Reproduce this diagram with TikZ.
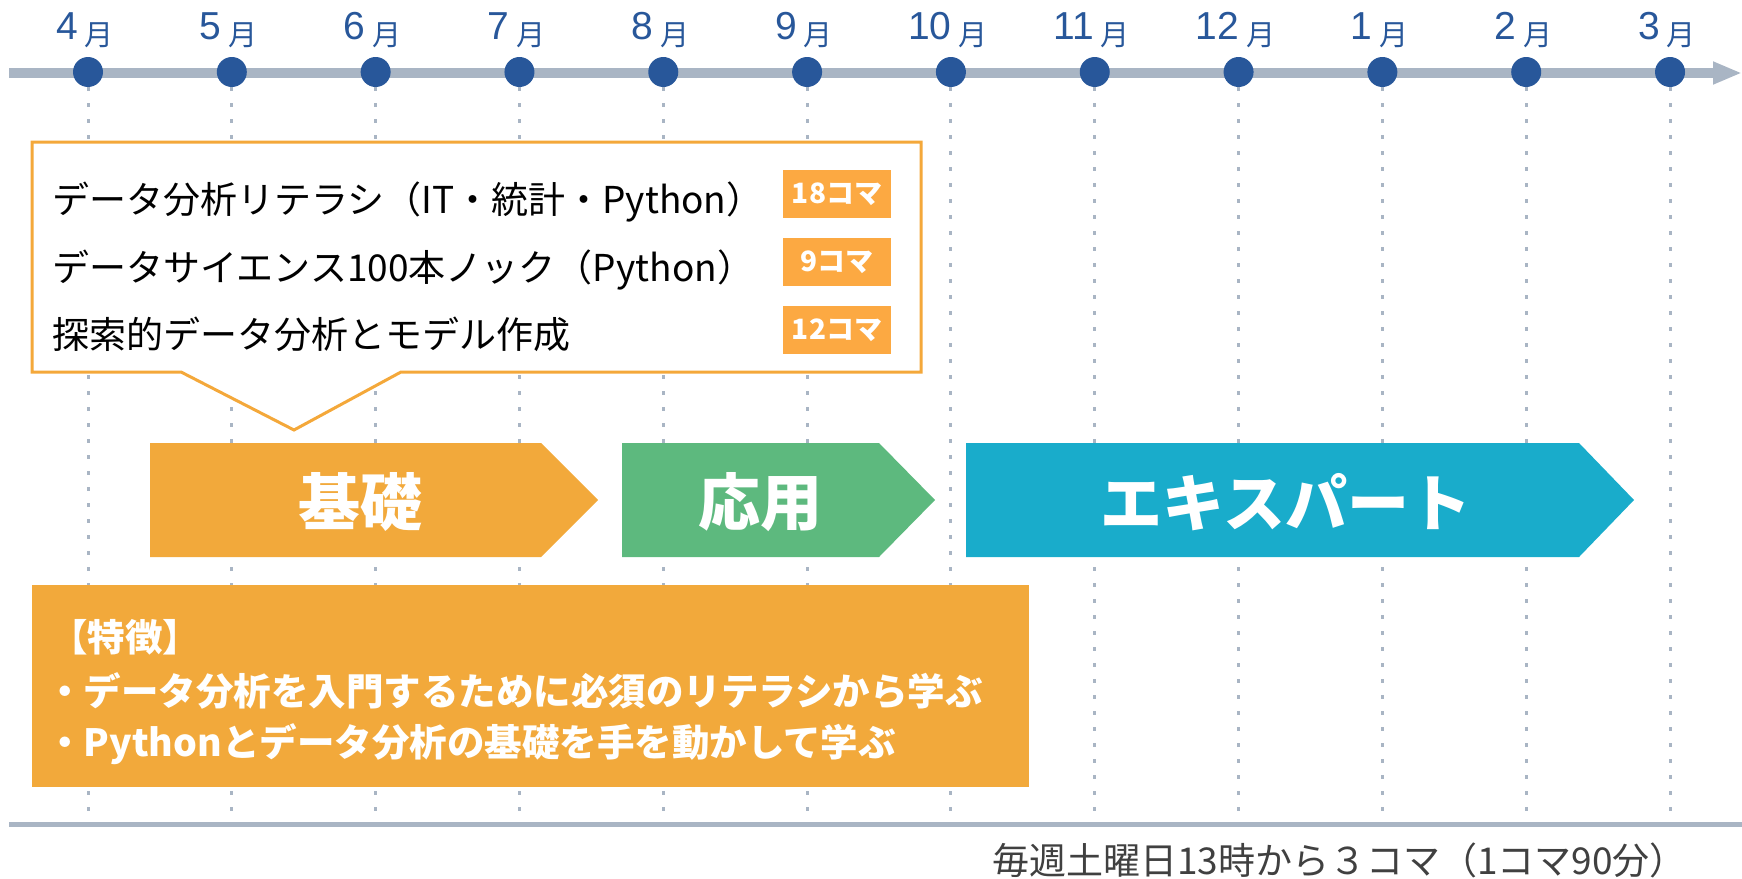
\documentclass[tikz,border=0pt]{standalone}
\usepackage{fontspec}
\setmainfont{Liberation Sans}
\newfontfamily\jp{Noto Sans CJK JP}
\usetikzlibrary{arrows.meta,calc}
\definecolor{dotblue}{HTML}{28579A}
\definecolor{tlgray}{HTML}{A9B5C4}
\definecolor{orangeA}{HTML}{F2A93B}
\definecolor{calloutor}{HTML}{F4A83A}
\definecolor{badgeor}{HTML}{FCA942}
\definecolor{greenA}{HTML}{5DB97E}
\definecolor{tealA}{HTML}{19ACCB}
\definecolor{captxt}{HTML}{404040}
\newcommand{\mnum}[1]{{\fontsize{39pt}{39pt}\selectfont #1}}
\newcommand{\mtsu}{{\hspace{7pt}\jp\fontsize{29pt}{29pt}\selectfont\raisebox{-6pt}{月}}}
\begin{document}
\begin{tikzpicture}[x=1pt,y=-1pt,
  dotnode/.style={circle, fill=dotblue, minimum size=30pt, inner sep=0pt},
  monthlbl/.style={anchor=base, text=dotblue, inner sep=0pt},
  vline/.style={draw=tlgray, line width=3pt, dash pattern=on 3.5pt off 12.5pt},
  callouttxt/.style={anchor=base west, inner sep=0pt, text=black, font=\jp\fontsize{37pt}{37pt}\selectfont},
  badge/.style={fill=badgeor, text=white, minimum width=108pt, minimum height=48pt, inner sep=0pt, font=\jp\bfseries\fontsize{28pt}{28pt}\selectfont},
  phasetxt/.style={text=white, inner sep=0pt, font=\jp\bfseries\fontsize{62pt}{62pt}\selectfont},
  feattxt/.style={anchor=base west, inner sep=0pt, text=white, font=\jp\bfseries\fontsize{37.5pt}{37.5pt}\selectfont},
  captionstyle/.style={anchor=base west, inner sep=0pt, text=captxt, font=\jp\fontsize{37pt}{37pt}\selectfont}
]
\useasboundingbox (0,0) rectangle (1742,878);
% timeline
\coordinate (tlS) at (9,73);
\coordinate (tlE) at (1742,73);
\draw[tlgray, line width=10pt, -{Triangle[length=29pt,width=21pt]}] (tlS) -- (tlE);
% bottom line
\coordinate (blL) at (9,824.5);
\coordinate (blR) at (1742,824.5);
\draw[tlgray, line width=5pt] (blL) -- (blR);
% dots and labels
\foreach \m [count=\k from 0] in {4,5,6,7,8,9,10,11,12,1,2,3} {
  \pgfmathsetmacro\xx{88+143.82*\k}
  \node[dotnode] (m\k) at (\xx,72) {};
  \node[monthlbl] (lbl\k) at (\xx-3,39) {\mnum{\m}\mtsu};
}
\foreach \k in {0,...,11} {
  \draw[vline] (m\k.south) -- (m\k |- blL);
}
% callout
\coordinate (cA) at (32,142);
\coordinate (cB) at (921,142);
\coordinate (cC) at (921,372);
\coordinate (cD) at (401,372);
\coordinate (cT) at (294,430);
\coordinate (cE) at (181,372);
\coordinate (cF) at (32,372);
\draw[calloutor, line width=3pt, fill=white, line join=miter] (cA) -- (cB) -- (cC) -- (cD) -- (cT) -- (cE) -- (cF) -- cycle;
\node[callouttxt] (t1) at (52,213) {データ分析リテラシ（IT・統計・Python）};
\node[callouttxt] (t2) at (52,281) {データサイエンス100本ノック（Python）};
\node[callouttxt] (t3) at (52,348) {探索的データ分析とモデル作成};
\node[badge] (b1) at (837,194) {18コマ};
\node[badge] (b2) at (837,262) {9コマ};
\node[badge] (b3) at (837,330) {12コマ};
% phases
\fill[orangeA] (150,443) -- (541,443) -- (598,500) -- (541,557) -- (150,557) -- cycle;
\fill[greenA] (622,443) -- (879,443) -- (935,500) -- (879,557) -- (622,557) -- cycle;
\fill[tealA] (966,443) -- (1579,443) -- (1634,500) -- (1579,557) -- (966,557) -- cycle;
\node[phasetxt] (kiso) at (360,502) {基礎};
\node[phasetxt] (oyo) at (760,502) {応用};
\node[phasetxt] (expert) at (1286,502) {エキスパート};
% feature box
\fill[orangeA] (32,585) rectangle (1029,787);
\node[feattxt] (f0) at (50,651) {【特徴】};
\node[feattxt] (f1) at (46,705) {・データ分析を入門するために必須のリテラシから学ぶ};
\node[feattxt] (f2) at (46,756) {・Pythonとデータ分析の基礎を手を動かして学ぶ};
% caption
\node[captionstyle] (cap) at (992,874) {毎週土曜日13時から３コマ（1コマ90分）};
\end{tikzpicture}
\end{document}
